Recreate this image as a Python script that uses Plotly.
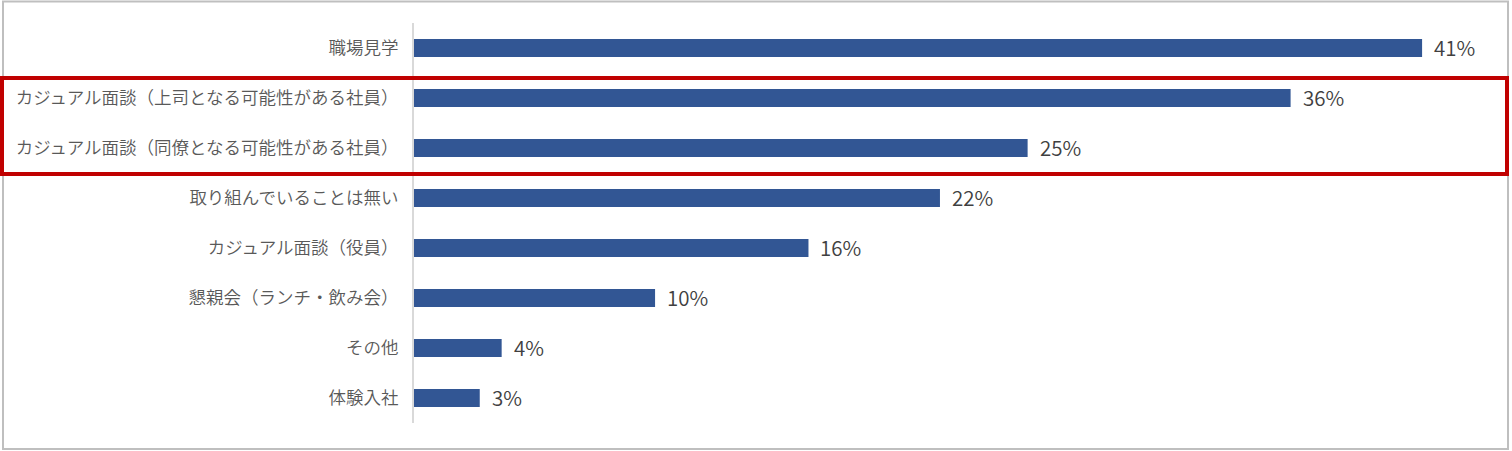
import plotly.graph_objects as go

categories = [
    "職場見学",
    "カジュアル面談（上司となる可能性がある社員）",
    "カジュアル面談（同僚となる可能性がある社員）",
    "取り組んでいることは無い",
    "カジュアル面談（役員）",
    "懇親会（ランチ・飲み会）",
    "その他",
    "体験入社",
]
values = [41.4, 36.0, 25.2, 21.6, 16.2, 9.9, 3.6, 2.7]
value_labels = ["41%", "36%", "25%", "22%", "16%", "10%", "4%", "3%"]

W, H = 1512, 451
L, R, T, B = 414, 2, 23, 28
pw = W - L - R
ph = H - T - B

def px_x(p):
    return (p - L) / pw

def px_y(p):
    return 1 - (p - T) / ph

font_family = "Noto Sans CJK JP, Noto Sans, sans-serif"

fig = go.Figure(go.Bar(
    x=values, y=categories, orientation="h",
    marker=dict(color="#325694", line=dict(width=0)),
    hoverinfo="skip",
))

annotations = []
for c, v, t in zip(categories, values, value_labels):
    annotations.append(dict(x=v, y=c, xref="x", yref="y", text=t, showarrow=False,
                            xanchor="left", xshift=10, yshift=1,
                            font=dict(size=20.5, color="#404040", family=font_family,
                                      weight=350)))

shapes = [
    dict(type="rect", xref="paper", yref="paper",
         x0=px_x(3), x1=px_x(1508), y0=px_y(449), y1=px_y(1.5),
         line=dict(color="#bfbfbf", width=2), fillcolor="rgba(0,0,0,0)", layer="above"),
    dict(type="rect", xref="paper", yref="paper",
         x0=px_x(2), x1=px_x(1507), y0=px_y(174), y1=px_y(78),
         line=dict(color="#c00000", width=4), fillcolor="rgba(0,0,0,0)", layer="above"),
]

fig.update_layout(
    width=W, height=H,
    margin=dict(l=L, r=R, t=T, b=B, autoexpand=False),
    paper_bgcolor="white", plot_bgcolor="white",
    bargap=0.64,
    showlegend=False,
    xaxis=dict(range=[0, pw / 24.35], visible=False, fixedrange=True),
    yaxis=dict(autorange="reversed", showline=True, linecolor="#d9d9d9", linewidth=2,
               ticks="", showgrid=False, ticklabelstandoff=10,
               tickfont=dict(size=17.5, color="#595959", family=font_family, weight=350),
               fixedrange=True),
    annotations=annotations,
    shapes=shapes,
)

fig.write_html("out.html")
